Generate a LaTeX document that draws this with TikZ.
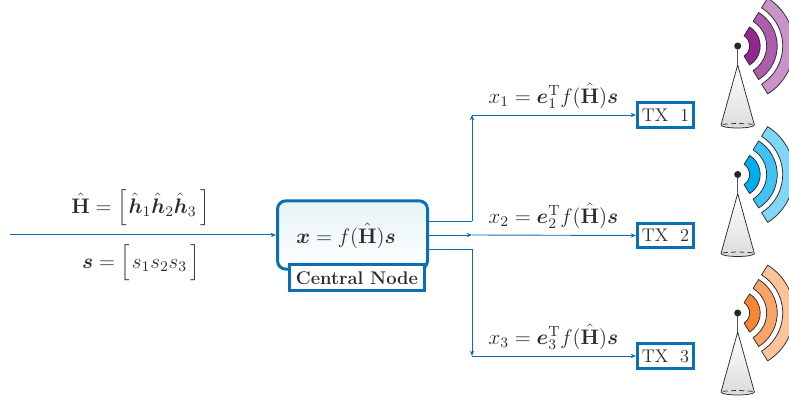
\documentclass[tikz,border=0pt]{standalone}
\usepackage{fix-cm}
\usepackage{amsmath,bm}
\usetikzlibrary{arrows.meta,calc}
\definecolor{nodeblue}{HTML}{0B6FB8}
\definecolor{nodetint}{HTML}{E6F4F7}
\definecolor{wpurple}{HTML}{92278F}
\definecolor{wblue}{HTML}{00AEEF}
\definecolor{worange}{HTML}{F58634}
\definecolor{ink}{HTML}{2B2B2B}
\tikzset{
  x=0.6pt,y=-0.6pt,
  wire/.style={draw=nodeblue,line width=0.55pt},
  tip/.style={-{Stealth[length=3.2pt,width=2.6pt]}},
  txbox/.style={draw=nodeblue,line width=1.8pt,fill=white,inner sep=0pt,minimum width=33.6pt,minimum height=14.6pt,text=ink,font=\fontsize{11}{13}\selectfont},
  mainbox/.style={draw=nodeblue,line width=1.8pt,rounded corners=5pt,top color=nodetint,bottom color=white,minimum width=90pt,minimum height=41pt,inner sep=0pt},
  namebox/.style={draw=nodeblue,line width=1.8pt,fill=white,inner sep=0pt,minimum width=81pt,minimum height=15.6pt,text=ink,font=\fontsize{11}{13}\selectfont\bfseries},
  eq/.style={text=ink,inner sep=0pt,font=\fontsize{12.6}{15}\selectfont},
  wave/.style={draw=ink,line width=0.45pt,line join=round},
  cone/.style={draw=ink,line width=0.45pt,top color=white,bottom color=black!14,line join=round},
}
\newcommand{\wavesector}[6]{%
  \fill[#6,wave] ($(#1,#2)+(-58:#3*0.6pt)$)
    arc[start angle=-58,end angle=58,radius=#3*0.6pt] -- ($(#1,#2)+(58:#4*0.6pt)$)
    arc[start angle=58,end angle=-58,radius=#4*0.6pt] -- cycle;
}
\newcommand{\antenna}[3]{%
  \begin{scope}[y=0.6pt]
    \wavesector{#1}{-#2}{12}{22.5}{}{#3}
    \wavesector{#1}{-#2}{29}{39.5}{}{#3!75!white}
    \wavesector{#1}{-#2}{45}{56.5}{}{#3!50!white}
  \end{scope}
  \draw[cone] (#1,#2+19) -- (#1+16.7,#2+79)
    arc[start angle=0,end angle=-180,x radius=16.7*0.6pt,y radius=3*0.6pt] -- cycle;
  \draw[draw=ink,line width=0.45pt,dash pattern=on 3pt off 2pt] (#1+15,#2+78.4) .. controls (#1+6,#2+77.3) and (#1-6,#2+77.3) .. (#1-15,#2+78.4);
  \draw[draw=ink!80,line width=0.7pt] (#1,#2) -- (#1,#2+19);
  \fill[ink!90!black] (#1,#2) circle[radius=2.1pt];
}
\begin{document}
\begin{tikzpicture}
\useasboundingbox (0,0) rectangle (789,405);
\clip (0,0) rectangle (789,405);
\antenna{737.7}{46}{wpurple}
\antenna{737.7}{174.5}{wblue}
\antenna{737.7}{313}{worange}

\node[mainbox] (main) at (352.5,235) {};
\node[eq,anchor=west] (f) at (296,236) {$\bm{x}=f(\hat{\mathbf{H}})\bm{s}$};
\node[namebox] (name) at (357,278) {Central Node};
\node[txbox] (tx1) at (665.5,115) {TX\ \ 1};
\node[txbox] (tx2) at (665.5,235.5) {TX\ \ 2};
\node[txbox] (tx3) at (665.5,356) {TX\ \ 3};

\coordinate (in) at (10,235);
\coordinate (up) at (472,221);
\coordinate (upc) at (472,115);
\coordinate (dn) at (472,249);
\coordinate (dnc) at (472,356);
\coordinate (mid) at (472,235);

\draw[wire,tip,line width=0.6pt] (in) -- (main.west |- in);
\draw[wire] (main.east |- up) -- (up);
\draw[wire,tip] (up) -- (upc);
\draw[wire,tip] (upc) -- (tx1.west);
\draw[wire,tip] (main.east |- mid) -- (mid);
\draw[wire,tip] (mid) -- (tx2.west);
\draw[wire] (main.east |- dn) -- (dn);
\draw[wire,tip] (dn) -- (dnc);
\draw[wire,tip] (dnc) -- (tx3.west);

\node[eq] (hlab) at (140.5,208) {$\hat{\mathbf{H}}=\Bigl[\hspace{1pt}\hat{\bm{h}}_1\hat{\bm{h}}_2\hat{\bm{h}}_3\,\Bigr]$};
\node[eq] (slab) at (141,263) {$\bm{s}=\Bigl[\hspace{1pt}s_1s_2s_3\,\Bigr]$};
\node[eq] (x1) at (553.5,96) {$x_1=\bm{e}_1^{\mathrm{T}}f(\hat{\mathbf{H}})\bm{s}$};
\node[eq] (x2) at (553.5,216) {$x_2=\bm{e}_2^{\mathrm{T}}f(\hat{\mathbf{H}})\bm{s}$};
\node[eq] (x3) at (553.5,337) {$x_3=\bm{e}_3^{\mathrm{T}}f(\hat{\mathbf{H}})\bm{s}$};
\end{tikzpicture}
\end{document}
